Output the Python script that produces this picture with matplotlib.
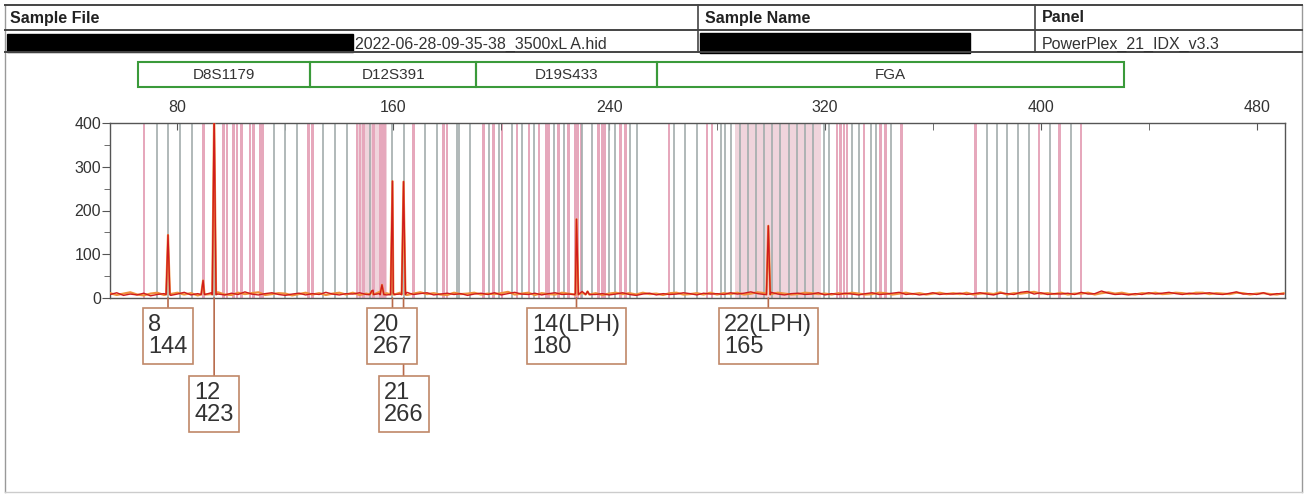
import numpy as np
import matplotlib.pyplot as plt
from matplotlib.patches import Rectangle
from matplotlib.transforms import blended_transform_factory
from matplotlib.ticker import MultipleLocator

plt.rcParams['font.family'] = ['Liberation Sans', 'DejaVu Sans']

# header info
sample_file = "2022-06-28-09-35-38_3500xL A.hid"
panel_name = "PowerPlex_21_IDX_v3.3"

# marker ranges (bp)
markers = ["D8S1179", "D12S391", "D19S433", "FGA"]
marker_edges = [65.4, 129.2, 190.8, 257.9, 430.7]

# called peaks
peak_x = [76.5, 93.6, 159.7, 163.8, 227.9, 299.0]
peak_h = [144, 423, 267, 266, 180, 165]
alleles = ["8", "12", "20", "21", "14(LPH)", "22(LPH)"]
label_row = [0, 1, 0, 1, 0, 0]

# small stutter / artefact peaks
minor_x = [89.5, 152.0, 155.8, 232.0]
minor_h = [40, 16, 30, 15]

# baseline noise, every 2.5 bp from 55 to 490
noise = [8, 12, 6, 9, 7, 11, 5, 8, 10, 6, 9, 13, 7, 10, 8, 12, 9, 7,
         11, 8, 14, 9, 7, 10, 12, 8, 6, 9, 11, 7, 10, 8, 13, 9, 7, 10,
         9, 12, 8, 18, 10, 7, 11, 9, 13, 8, 10, 12, 7, 9, 11, 8, 10, 6,
         9, 11, 8, 12, 7, 10, 13, 9, 8, 11, 7, 10, 12, 8, 9, 11, 15, 10,
         8, 10, 7, 9, 12, 8, 6, 9, 11, 7, 10, 8, 9, 12, 10, 7, 11, 9,
         10, 8, 12, 9, 11, 14, 10, 8, 13, 9, 7, 10, 11, 8, 9, 12, 7, 10,
         8, 11, 9, 7, 10, 12, 8, 9, 11, 13, 8, 10, 7, 9, 12, 8, 10, 9,
         11, 8, 10, 12, 9, 7, 11, 10, 8, 13, 15, 9, 12, 8, 10, 9, 11, 8,
         13, 9, 10, 16, 11, 8, 9, 7, 10, 8, 12, 9, 11, 13, 10, 8, 11, 9,
         10, 12, 9, 8, 11, 14, 9, 10, 8, 12, 7, 10, 9]
# second (orange) channel noise on the same grid
noise2 = [11, 7, 10, 13, 8, 6, 10, 12, 7, 9, 12, 8, 11, 6, 10, 9, 13, 8,
          7, 12, 9, 11, 13, 7, 9, 11, 10, 6, 9, 12, 8, 11, 7, 10, 12, 8,
          12, 7, 10, 9, 14, 11, 8, 12, 7, 10, 13, 9, 11, 8, 7, 12, 9, 10,
          12, 8, 10, 9, 11, 14, 8, 10, 12, 7, 11, 9, 8, 12, 10, 7, 12, 9,
          11, 7, 10, 12, 9, 11, 8, 12, 9, 10, 7, 11, 12, 8, 9, 11, 8, 12,
          8, 11, 9, 12, 8, 10, 13, 11, 9, 12, 10, 8, 9, 12, 11, 9, 10, 8,
          11, 9, 12, 10, 8, 9, 12, 11, 8, 10, 12, 9, 11, 8, 10, 12, 9, 11,
          9, 12, 8, 10, 11, 9, 13, 8, 11, 10, 12, 14, 10, 11, 9, 12, 8, 10,
          10, 12, 8, 11, 13, 10, 12, 9, 8, 11, 10, 12, 9, 10, 12, 11, 9, 12,
          12, 9, 11, 10, 9, 12, 11, 8, 10, 11, 9, 8, 11]

# bin positions
gray_bins = [72.3, 76.6, 81.0, 85.3, 93.6, 115.6, 120.0, 124.2, 134.1, 138.5, 142.8,
             151.4, 159.5, 163.8, 171.8, 176.2, 183.6, 184.2, 188.5, 195.3, 199.0,
             204.0, 207.7, 212.0, 219.4, 223.1, 229.9, 233.7, 239.8, 242.3, 247.9,
             250.4, 264.0, 268.3, 272.6, 281.3, 283.1, 285.0, 288.5, 291.5, 294.5,
             297.5, 300.5, 303.5, 306.5, 309.5, 312.5, 315.5, 319.6, 321.4, 330.1,
             332.6, 336.9, 338.8, 344.3, 379.9, 383.9, 387.6, 391.5, 395.6, 403.3, 411.1]
pink_bins = [67.6, 89.6, 97.0, 98.3, 100.7, 102.0, 103.8, 106.9, 108.2, 110.6, 111.5,
             128.6, 130.0, 146.5, 147.7, 149.0, 152.7, 155.1, 156.0, 157.0, 167.5,
             178.6, 179.9, 193.5, 197.2, 200.3, 205.8, 210.2, 213.9, 216.5, 217.5,
             221.3, 225.0, 227.5, 228.5, 229.5, 236.1, 237.6, 238.4, 244.2, 246.0,
             262.1, 276.3, 278.2, 324.5, 325.7, 327.0, 328.2, 334.4, 340.6, 342.5,
             348.3, 375.8, 399.3, 407.0, 414.8]
dense_spans = [(146.0, 157.5), (286.8, 318.4)]

W, H = 1306, 496
fig = plt.figure(figsize=(W / 100, H / 100), dpi=100)

# layout layer in pixel units
lay = fig.add_axes([0, 0, 1, 1])
lay.set_xlim(0, W)
lay.set_ylim(H, 0)
lay.axis('off')

lay.plot([5, 5], [5, 492], color='#999999', lw=1)
lay.plot([1302, 1302], [5, 492], color='#999999', lw=1)
lay.plot([5, 1302], [492, 492], color='#cccccc', lw=1)
for yy in (5, 30, 52):
    lay.plot([5, 1302], [yy, yy], color='#444444', lw=1.4)
for xx in (698, 1035):
    lay.plot([xx, xx], [5, 52], color='#444444', lw=1.2)
hdr = dict(fontsize=11.5, fontweight='bold', va='center', color='#222222')
lay.text(10, 18, "Sample File", **hdr)
lay.text(705, 18, "Sample Name", **hdr)
lay.text(1042, 18, "Panel", **hdr)
lay.add_patch(Rectangle((7, 34), 346, 18, color='black'))
lay.add_patch(Rectangle((700, 33), 270, 20, color='black'))
lay.text(355, 44, sample_file, fontsize=11.5, va='center', color='#333333')
lay.text(1042, 44, panel_name, fontsize=11.5, va='center', color='#333333')

# electropherogram
ax = fig.add_axes([110 / W, 1 - 298 / H, 1175 / W, 175 / H])
ax.set_xlim(55, 490.5)
ax.set_ylim(0, 400)

for lo, hi in dense_spans:
    ax.axvspan(lo, hi, color='#f0d4dc', lw=0, zorder=1)
for b in pink_bins:
    ax.axvspan(b - 0.45, b + 0.45, color='#e6a8bc', lw=0, zorder=1.5)
for b in gray_bins:
    ax.axvline(b, color='#a3adad', lw=1.2, zorder=2)

base_x = np.arange(55, 490.1, 2.5)
pk_x, pk_y = [], []
for x, h in zip(peak_x + minor_x, peak_h + minor_h):
    pk_x += [x - 0.7, x, x + 0.7]
    pk_y += [8, h, 8]

for vals, col, lw, z in [(noise2, '#f0903c', 1.6, 3), (noise, '#d01c1c', 1.0, 4)]:
    tx = np.concatenate([base_x, pk_x])
    ty = np.concatenate([vals, pk_y])
    order = np.argsort(tx)
    ax.plot(tx[order], ty[order], color=col, lw=lw, zorder=z)

ax.xaxis.tick_top()
ax.xaxis.set_major_locator(MultipleLocator(80))
ax.xaxis.set_minor_locator(MultipleLocator(40))
ax.yaxis.set_major_locator(MultipleLocator(100))
ax.yaxis.set_minor_locator(MultipleLocator(50))
ax.tick_params(axis='x', which='both', direction='in', length=5, colors='#555555',
               labelcolor='#333333', labelsize=11.5, pad=6)
ax.tick_params(axis='y', which='major', direction='out', length=6, colors='#555555',
               labelcolor='#333333', labelsize=11.5, pad=0.5)
ax.tick_params(axis='y', which='minor', direction='out', length=4, colors='#555555')
for s in ax.spines.values():
    s.set_color('#555555')
    s.set_linewidth(1.0)

# marker header boxes
mt = blended_transform_factory(ax.transData, lay.transData)
for i, name in enumerate(markers):
    x0, x1 = marker_edges[i], marker_edges[i + 1]
    ax.add_patch(Rectangle((x0, 62), x1 - x0, 25, transform=mt, fill=False,
                           ec='#3a9a3a', lw=1.5, clip_on=False))
    ax.text((x0 + x1) / 2, 75, name, transform=mt, ha='center', va='center',
            fontsize=11, color='#333333', clip_on=False)

# allele labels
for i in sorted(range(len(peak_x)), key=lambda k: -label_row[k]):
    ax.annotate(f"{alleles[i]}\n{peak_h[i]}", xy=(peak_x[i], 0), xycoords='data',
                xytext=(0, -38 - 68 * label_row[i]), textcoords='offset pixels',
                ha='center', va='center', multialignment='left', fontsize=17,
                linespacing=1.05, color='#333333',
                bbox=dict(boxstyle='square,pad=0.22', fc='white', ec='#c08868', lw=1.2),
                arrowprops=dict(arrowstyle='-', color='#b86a4a', lw=1.2,
                                shrinkA=0, shrinkB=0),
                annotation_clip=False)

fig.savefig('out.png', dpi=100)
